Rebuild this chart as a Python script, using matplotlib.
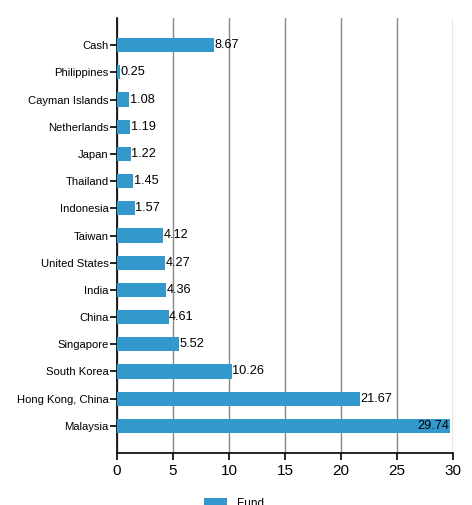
import matplotlib.pyplot as plt

plt.rcParams['font.family'] = ['Liberation Sans', 'DejaVu Sans']

categories = ['Cash', 'Philippines', 'Cayman Islands', 'Netherlands', 'Japan',
              'Thailand', 'Indonesia', 'Taiwan', 'United States', 'India',
              'China', 'Singapore', 'South Korea', 'Hong Kong, China', 'Malaysia']
values = [8.67, 0.25, 1.08, 1.19, 1.22, 1.45, 1.57, 4.12, 4.27, 4.36,
          4.61, 5.52, 10.26, 21.67, 29.74]
xticks = [0, 5, 10, 15, 20, 25, 30]

color = '#3399cc'

fig = plt.figure(figsize=(4.72, 5.05), dpi=100)
ax = fig.add_axes([117/472, 52/505, 336/472, 435/505])

pos = list(range(len(categories)))
bars = ax.barh(pos, values, height=0.52, color=color, label='Fund', zorder=3)

ax.set_xlim(0, 30)
ax.set_ylim(15, -1)
ax.set_yticks(pos)
ax.set_yticklabels(categories, fontsize=8.1)
ax.set_xticks(xticks)
ax.set_xticklabels([str(t) for t in xticks], fontsize=11)

ax.grid(axis='x', color='#888888', linewidth=1, zorder=0)
for s in ['top', 'right']:
    ax.spines[s].set_visible(False)
ax.spines['left'].set_linewidth(1.2)
ax.spines['bottom'].set_linewidth(1.2)
ax.tick_params(axis='y', length=5, width=1.2, pad=1)
ax.tick_params(axis='x', length=5, width=1.2, pad=3)

for i, v in enumerate(values):
    if v > 28:
        ax.text(v - 0.1, i, f'{v:.2f}', va='center', ha='right', fontsize=9.2, zorder=4)
    else:
        ax.text(v + 0.05, i, f'{v:.2f}', va='center', ha='left', fontsize=9.2, zorder=4)

fig.legend(handles=[bars], labels=['Fund'], loc='center left',
           bbox_to_anchor=(193/472, 1/505), frameon=False, fontsize=8.5,
           handlelength=2.0, handleheight=0.9)

fig.savefig('out.png', dpi=100)
